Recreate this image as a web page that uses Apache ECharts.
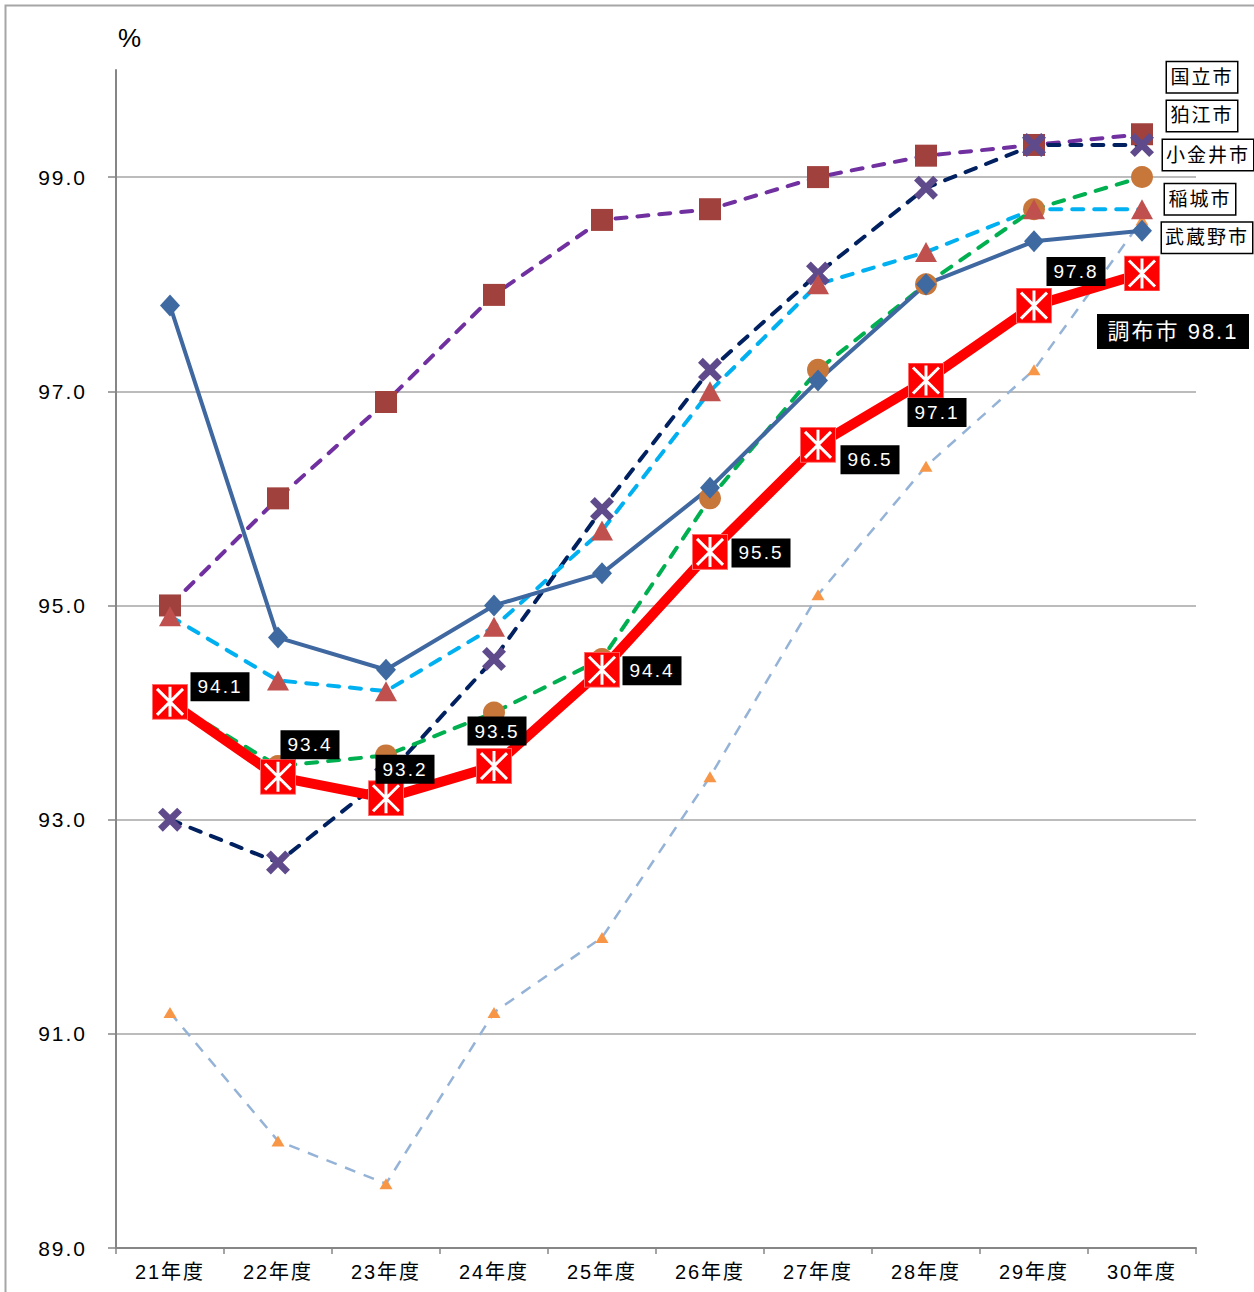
<!DOCTYPE html>
<html><head><meta charset="utf-8">
<script src="https://cdn.jsdelivr.net/npm/echarts@6/dist/echarts.min.js"></script>
<style>
html,body{margin:0;padding:0;background:#fff;}
#c{width:1254px;height:1292px;}
#c text{letter-spacing:2px;}
</style></head><body><div id="c"></div>
<script>
const categories = ['21年度','22年度','23年度','24年度','25年度','26年度','27年度','28年度','29年度','30年度'];
const chofu     = [94.1, 93.4, 93.2, 93.5, 94.4, 95.5, 96.5, 97.1, 97.8, 98.1];
const kunitachi = [95.0, 96.0, 96.9, 97.9, 98.6, 98.7, 99.0, 99.2, 99.3, 99.4];
const komae     = [93.0, 92.6, 93.4, 94.5, 95.9, 97.2, 98.1, 98.9, 99.3, 99.3];
const koganei   = [94.1, 93.5, 93.6, 94.0, 94.5, 96.0, 97.2, 98.0, 98.7, 99.0];
const inagi     = [94.9, 94.3, 94.2, 94.8, 95.7, 97.0, 98.0, 98.3, 98.7, 98.7];
const musashino = [97.8, 94.7, 94.4, 95.0, 95.3, 96.1, 97.1, 98.0, 98.4, 98.5];
const other     = [91.2, 90.0, 89.6, 91.2, 91.9, 93.4, 95.1, 96.3, 97.2, 98.6];

// label offsets (px, relative to marker centre) - layout only
const chofuLabelOffsets = [[50,-15],[32,-32],[19,-29],[3,-35],[50,1],[51,1],[52,15],[11,32],[42,-34],[31,58]];

const FONT = '"Liberation Sans", Arial, "Noto Sans CJK JP", sans-serif';
const chart = echarts.init(document.getElementById('c'), null, {renderer:'svg'});

const boxStyle = {
  position:'inside', backgroundColor:'#fff', borderColor:'#000', borderWidth:1.5,
  padding:[5,5,3,5], color:'#000', fontSize:19, fontFamily:FONT, lineHeight:22
};
function withEndLabel(arr, text, offset, width) {
  return arr.map((v,i)=> i===arr.length-1
    ? {value:v, label:Object.assign({show:true, formatter:text, offset:offset, width:width, align:'center'}, boxStyle)}
    : v);
}

const chofuSvg = "<svg xmlns='http://www.w3.org/2000/svg' width='36' height='36'>" +
  "<rect x='0.5' y='0.5' width='35' height='35' fill='#FF0000' stroke='#FF7070' stroke-width='1'/>" +
  "<path d='M5 5L31 31M31 5L5 31M18 3V33' stroke='#FFFFFF' stroke-width='3'/></svg>";
const chofuSymbol = 'image://data:image/svg+xml;charset=utf-8,' + encodeURIComponent(chofuSvg);

const chofuData = chofu.map((v,i)=>{
  const last = i===chofu.length-1;
  return {value:v, label:{
    show:true, position:'inside', offset:chofuLabelOffsets[i],
    formatter: last ? '調布市 ' + v.toFixed(1) : v.toFixed(1),
    backgroundColor:'#000', color:'#fff', fontFamily:FONT,
    fontSize: last ? 22 : 19, lineHeight: last ? 25 : 21,
    padding: last ? [5,9,5,9] : [4,6,4,6],
    width: last ? 134 : 47, align:'center'
  }};
});

const xPath = 'path://M2 0L5 3L8 0L10 2L7 5L10 8L8 10L5 7L2 10L0 8L3 5L0 2Z';

option = {
  animation:false,
  backgroundColor:'#fff',
  grid:{left:116, right:58, top:70, bottom:44},
  xAxis:{
    type:'category', data:categories, boundaryGap:true,
    axisLine:{lineStyle:{color:'#868686', width:2}},
    axisTick:{show:true, length:6, lineStyle:{color:'#868686', width:1.5}},
    axisLabel:{color:'#000', fontSize:20, fontFamily:FONT, margin:14}
  },
  yAxis:{
    type:'value', min:89, max:100, interval:2,
    axisLine:{show:true, lineStyle:{color:'#868686', width:2}},
    axisTick:{show:true, length:8, inside:false, lineStyle:{color:'#868686', width:1.5}},
    axisLabel:{color:'#000', fontSize:21, fontFamily:FONT, margin:29, showMaxLabel:false,
      formatter:v=>v.toFixed(1)},
    splitLine:{show:true, showMaxLine:false, lineStyle:{color:'#A6A6A6', width:1.5}}
  },
  graphic:[
    {type:'rect', silent:true, shape:{x:5.5, y:5.5, width:1400, height:1400},
      style:{fill:'none', stroke:'#A6A6A6', lineWidth:2}},
    {type:'text', silent:true, left:118, top:25,
      style:{text:'%', fontSize:26, fontFamily:FONT, fill:'#000'}}
  ],
  series:[
    {name:'その他', type:'line', data:other, z:2,
      symbol:'triangle', symbolSize:[13,11], itemStyle:{color:'#F79646'},
      lineStyle:{color:'#95B3D7', width:2.5, type:[11,9]}},
    {name:'国立市', type:'line', data:withEndLabel(kunitachi,'国立市',[60,-57],60), z:3,
      symbol:'rect', symbolSize:22, itemStyle:{color:'#A0413D'},
      lineStyle:{color:'#7030A0', width:4, type:[11,11], cap:'round'}},
    {name:'狛江市', type:'line', data:withEndLabel(komae,'狛江市',[60,-29],60), z:3,
      symbol:xPath, symbolSize:24, itemStyle:{color:'#5F4B8B'},
      lineStyle:{color:'#002060', width:4, type:[11,11], cap:'round'}},
    {name:'小金井市', type:'line', data:withEndLabel(koganei,'小金井市',[66,-22],80), z:3,
      symbol:'circle', symbolSize:22, itemStyle:{color:'#C8773A'},
      lineStyle:{color:'#00B050', width:4, type:[11,11], cap:'round'}},
    {name:'稲城市', type:'line', data:withEndLabel(inagi,'稲城市',[58,-10],60), z:3,
      symbol:'triangle', symbolSize:[22,20], itemStyle:{color:'#C0504D'},
      lineStyle:{color:'#00B0F0', width:4, type:[11,11], cap:'round'}},
    {name:'武蔵野市', type:'line', data:withEndLabel(musashino,'武蔵野市',[65,7],80), z:3,
      symbol:'diamond', symbolSize:[20,22], itemStyle:{color:'#3E6AA1'},
      lineStyle:{color:'#3F67A0', width:4}},
    {name:'調布市', type:'line', data:chofuData, z:5,
      symbol:chofuSymbol, symbolSize:36, itemStyle:{color:'#FF0000'},
      lineStyle:{color:'#FF0000', width:10}}
  ]
};
chart.setOption(option);
</script></body></html>
